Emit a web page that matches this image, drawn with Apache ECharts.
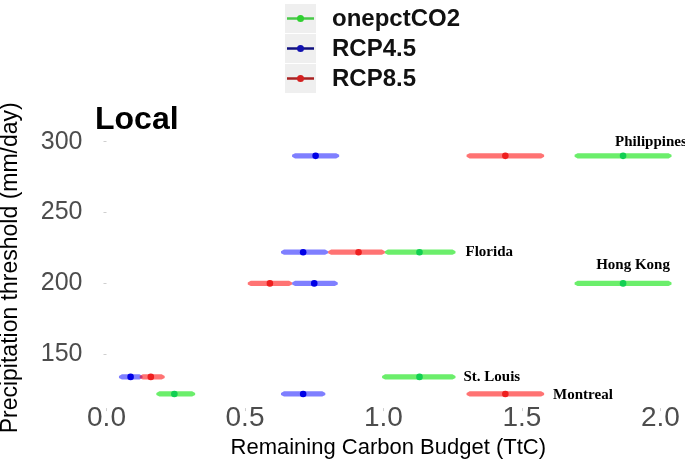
<!DOCTYPE html>
<html>
<head>
<meta charset="utf-8">
<script src="https://cdn.jsdelivr.net/npm/echarts@6/dist/echarts.min.js"></script>
<style>
  html, body { margin: 0; padding: 0; background: #fff; }
  #chart { width: 685px; height: 466px; }
</style>
</head>
<body>
<div id="chart"></div>
<script>
// Sites and their precipitation thresholds (mm/day)
const sites = ['Philippines', 'Florida', 'Hong Kong', 'St. Louis', 'Montreal'];
const thresholds = [290, 222, 200, 134, 122];

// Remaining carbon budget (TtC): lower bound, central estimate, upper bound
const onepctLow  = [1.69, 1.005, 1.69, 0.995, 0.18];
const onepctMid  = [1.865, 1.13, 1.865, 1.13, 0.245];
const onepctHigh = [2.04, 1.26, 2.04, 1.26, 0.32];

const rcp45Low  = [0.67, 0.63, 0.67, 0.045, 0.63];
const rcp45Mid  = [0.755, 0.71, 0.75, 0.087, 0.71];
const rcp45High = [0.84, 0.80, 0.835, 0.13, 0.79];

const rcp85Low  = [1.30, 0.80, 0.51, 0.12, 1.30];
const rcp85Mid  = [1.44, 0.91, 0.59, 0.16, 1.44];
const rcp85High = [1.58, 1.005, 0.67, 0.21, 1.58];

const xTicks = [0, 0.5, 1.0, 1.5, 2.0];
const yTicks = [150, 200, 250, 300];

// Drawing styles per scenario
const scenarioStyle = {
  onepctCO2: { bar: 'rgba(0,225,0,0.58)', dot: '#12cf52', key: '#48c848', keyDot: '#2fd030' },
  'RCP4.5':  { bar: 'rgba(0,0,255,0.5)',  dot: '#0000e6', key: '#10107e', keyDot: '#1212b0' },
  'RCP8.5':  { bar: 'rgba(255,0,0,0.55)', dot: '#ee1f1f', key: '#a82222', keyDot: '#d42020' }
};

// Where each site name sits, relative to one scenario's interval
const siteLabelLayout = {
  'Philippines': { series: 'onepctCO2', at: 'mid',  dx: -8, dy: -14, align: 'left' },
  'Florida':     { series: 'onepctCO2', at: 'high', dx: 10, dy: 0,   align: 'left' },
  'Hong Kong':   { series: 'onepctCO2', at: 'mid',  dx: 10, dy: -18, align: 'center' },
  'St. Louis':   { series: 'onepctCO2', at: 'high', dx: 8,  dy: 0,   align: 'left' },
  'Montreal':    { series: 'RCP8.5',    at: 'high', dx: 9,  dy: 1,   align: 'left' }
};

const scenarios = [
  { name: 'onepctCO2', low: onepctLow, mid: onepctMid, high: onepctHigh },
  { name: 'RCP4.5',    low: rcp45Low,  mid: rcp45Mid,  high: rcp45High },
  { name: 'RCP8.5',    low: rcp85Low,  mid: rcp85Mid,  high: rcp85High }
];

function makeSeries(sc) {
  const st = scenarioStyle[sc.name];
  const data = sites.map((s, i) => [thresholds[i], sc.low[i], sc.mid[i], sc.high[i]]);
  return {
    type: 'custom',
    name: sc.name,
    data: data,
    encode: { x: [1, 2, 3], y: 0 },
    clip: false,
    renderItem: function (params, api) {
      const y = api.value(0);
      const pLo = api.coord([api.value(1), y]);
      const pMid = api.coord([api.value(2), y]);
      const pHi = api.coord([api.value(3), y]);
      const cy = pMid[1];
      const t = 3;
      const children = [
        {
          type: 'polygon',
          shape: { points: [
            [pLo[0], cy - 1], [pLo[0] + t, cy - 2.6], [pHi[0] - t, cy - 2.6], [pHi[0], cy - 1],
            [pHi[0], cy + 1], [pHi[0] - t, cy + 2.6], [pLo[0] + t, cy + 2.6], [pLo[0], cy + 1]
          ] },
          style: { fill: st.bar }
        },
        { type: 'circle', shape: { cx: pMid[0], cy: cy, r: 3.3 }, style: { fill: st.dot } }
      ];
      const site = sites[params.dataIndex];
      const lab = siteLabelLayout[site];
      if (lab && lab.series === sc.name) {
        const anchor = lab.at === 'high' ? pHi : pMid;
        children.push({
          type: 'text',
          x: anchor[0] + lab.dx,
          y: cy + lab.dy,
          style: {
            text: site,
            font: 'bold 15px "Liberation Serif", "Times New Roman", serif',
            fill: '#000',
            align: lab.align,
            verticalAlign: 'middle'
          }
        });
      }
      return { type: 'group', children: children };
    }
  };
}

// Legend keys drawn as small boxed glyphs
const legendChildren = [];
scenarios.forEach((sc, i) => {
  const st = scenarioStyle[sc.name];
  const top = 4 + i * 30;
  const cy = top + 14.5;
  legendChildren.push(
    { type: 'rect', shape: { x: 285, y: top, width: 31, height: 29 }, style: { fill: '#efefef' } },
    { type: 'line', shape: { x1: 287, y1: cy, x2: 314, y2: cy }, style: { stroke: st.key, lineWidth: 2.5 } },
    { type: 'circle', shape: { cx: 300.5, cy: cy, r: 3.5 }, style: { fill: st.keyDot } },
    { type: 'text', x: 332, y: cy + 1, style: {
        text: sc.name, font: 'bold 24px "Liberation Sans", Arial, sans-serif',
        fill: '#111', verticalAlign: 'middle' } }
  );
});

const chart = echarts.init(document.getElementById('chart'), null, { renderer: 'canvas' });
chart.setOption({
  animation: false,
  backgroundColor: '#ffffff',
  grid: { left: 88.5, right: -17, top: 127.5, bottom: 57.9, containLabel: false, outerBoundsMode: 'none' },
  xAxis: {
    type: 'value',
    min: -0.065,
    max: 2.15,
    name: 'Remaining Carbon Budget (TtC)',
    nameLocation: 'middle',
    nameGap: 21,
    nameTextStyle: { fontSize: 22, color: '#000', fontFamily: '"Liberation Sans", Arial, sans-serif', padding: [0, 14, 0, 0] },
    axisLine: { show: false },
    splitLine: { show: false },
    axisTick: { show: true, length: 3, customValues: xTicks, lineStyle: { color: '#cfcfcf' } },
    axisLabel: {
      customValues: xTicks,
      margin: -4,
      fontSize: 28,
      color: '#4d4d4d',
      fontFamily: '"Liberation Sans", Arial, sans-serif',
      formatter: v => v.toFixed(1)
    }
  },
  yAxis: {
    type: 'value',
    min: 112,
    max: 310,
    name: 'Precipitation threshold (mm/day)',
    nameLocation: 'middle',
    nameGap: 66,
    nameTextStyle: { fontSize: 23, color: '#000', fontFamily: '"Liberation Sans", Arial, sans-serif' },
    axisLine: { show: false },
    splitLine: { show: false },
    axisTick: { show: true, length: 3, customValues: yTicks, lineStyle: { color: '#cfcfcf' } },
    axisLabel: {
      customValues: yTicks,
      margin: 6,
      fontSize: 25,
      color: '#4d4d4d',
      fontFamily: '"Liberation Sans", Arial, sans-serif'
    }
  },
  graphic: [
    { type: 'text', left: 95, top: 104, style: {
        text: 'Local', font: 'bold 32px "Liberation Sans", Arial, sans-serif', fill: '#000' } },
    { type: 'group', children: legendChildren }
  ],
  series: scenarios.map(makeSeries)
});
</script>
</body>
</html>
